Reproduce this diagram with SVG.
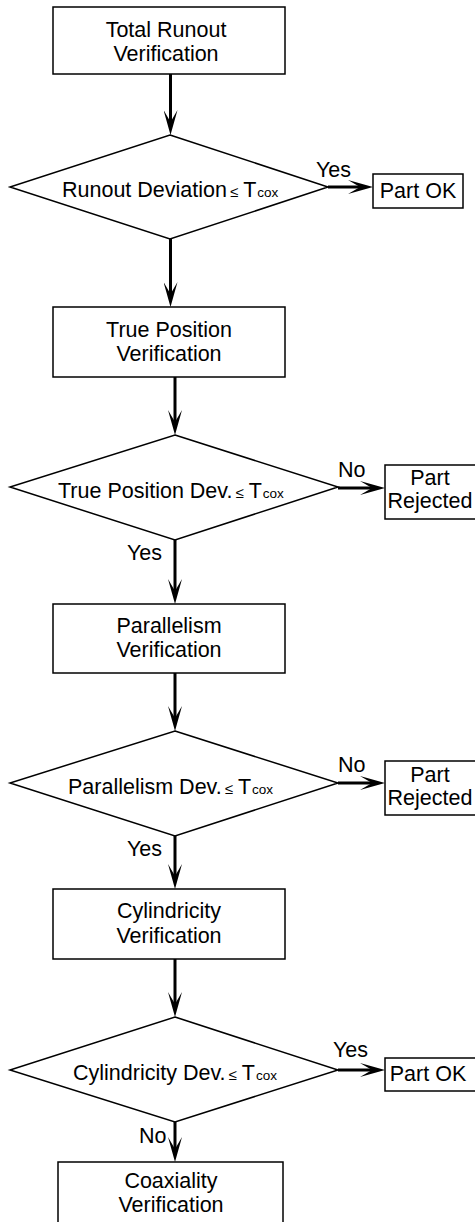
<svg xmlns="http://www.w3.org/2000/svg" width="475" height="1222" viewBox="0 0 475 1222">
<defs>
<style>
.box{fill:#fff;stroke:#000;stroke-width:1.5}
.dia{fill:#fff;stroke:#000;stroke-width:1.5}
.t{font-family:"Liberation Sans",Arial,sans-serif;font-size:21.5px;fill:#000}
.c{text-anchor:middle}
.s{font-size:13.5px}
.le{font-size:15px}
.con line{stroke:#000;stroke-width:3;marker-end:url(#ah)}
</style>
<marker id="ah" viewBox="0 -7 25 14" refX="12" refY="0" markerWidth="25" markerHeight="14" markerUnits="userSpaceOnUse" orient="auto">
<path d="M0,-7 L25,0 L0,7 L12,0 Z" fill="#000"/>
</marker>
</defs>
<rect width="475" height="1222" fill="#fff"/>

<g id="connectors" class="con">
<line x1="170.5" y1="74" x2="170.5" y2="122"/>
<line x1="328" y1="187" x2="360" y2="187"/>
<line x1="170.5" y1="239" x2="170.5" y2="294"/>
<line x1="175" y1="377" x2="175" y2="422"/>
<line x1="338" y1="488" x2="372" y2="488"/>
<line x1="175" y1="540" x2="175" y2="591"/>
<line x1="175" y1="673" x2="175" y2="718"/>
<line x1="338" y1="783" x2="372" y2="783"/>
<line x1="175" y1="836" x2="175" y2="876"/>
<line x1="175" y1="959" x2="175" y2="1004"/>
<line x1="338" y1="1070" x2="372" y2="1070"/>
<line x1="175" y1="1122" x2="175" y2="1149"/>
</g>

<g id="labels" class="t">
<text x="316" y="177">Yes</text>
<text x="338" y="477">No</text>
<text x="127" y="560">Yes</text>
<text x="338" y="772">No</text>
<text x="127" y="856">Yes</text>
<text x="333" y="1057">Yes</text>
<text x="139" y="1143">No</text>
</g>

<g id="n1">
<rect class="box" x="53" y="7" width="232" height="67"/>
<text class="t c" x="166" y="37">Total Runout</text>
<text class="t c" x="166" y="61">Verification</text>
</g>

<g id="d1">
<polygon class="dia" points="170,135 328,187 170,239 10,187"/>
<text class="t" x="62" y="197">Runout Deviation<tspan class="le" dx="3">≤</tspan><tspan dx="5">T</tspan><tspan class="s" dx="1">cox</tspan></text>
</g>

<g id="ok1">
<rect class="box" x="373" y="174" width="90" height="34"/>
<text class="t c" x="418" y="198">Part OK</text>
</g>

<g id="n2">
<rect class="box" x="53" y="307" width="232" height="70"/>
<text class="t c" x="169" y="337">True Position</text>
<text class="t c" x="169" y="361">Verification</text>
</g>

<g id="d2">
<polygon class="dia" points="175,435 338,487 175,540 10,487"/>
<text class="t" x="58" y="498">True Position Dev.<tspan class="le" dx="3">≤</tspan><tspan dx="5">T</tspan><tspan class="s" dx="1">cox</tspan></text>
</g>

<g id="rej1">
<rect class="box" x="385" y="465" width="92" height="54"/>
<text class="t c" x="430" y="485">Part</text>
<text class="t c" x="430" y="508">Rejected</text>
</g>

<g id="n3">
<rect class="box" x="53" y="604" width="232" height="69"/>
<text class="t c" x="169" y="633">Parallelism</text>
<text class="t c" x="169" y="657">Verification</text>
</g>

<g id="d3">
<polygon class="dia" points="175,731 338,783 175,836 10,783"/>
<text class="t" x="68" y="794">Parallelism Dev.<tspan class="le" dx="3">≤</tspan><tspan dx="5">T</tspan><tspan class="s" dx="1">cox</tspan></text>
</g>

<g id="rej2">
<rect class="box" x="385" y="761" width="92" height="54"/>
<text class="t c" x="430" y="782">Part</text>
<text class="t c" x="430" y="805">Rejected</text>
</g>

<g id="n4">
<rect class="box" x="53" y="889" width="232" height="70"/>
<text class="t c" x="169" y="918">Cylindricity</text>
<text class="t c" x="169" y="943">Verification</text>
</g>

<g id="d4">
<polygon class="dia" points="175,1017 338,1070 175,1122 10,1070"/>
<text class="t" x="73" y="1080">Cylindricity Dev.<tspan class="le" dx="3">≤</tspan><tspan dx="5">T</tspan><tspan class="s" dx="1">cox</tspan></text>
</g>

<g id="ok2">
<rect class="box" x="385" y="1058" width="92" height="33"/>
<text class="t c" x="428" y="1081">Part OK</text>
</g>

<g id="n5">
<rect class="box" x="58" y="1162" width="225" height="64"/>
<text class="t c" x="171" y="1188">Coaxiality</text>
<text class="t c" x="171" y="1212">Verification</text>
</g>
</svg>
